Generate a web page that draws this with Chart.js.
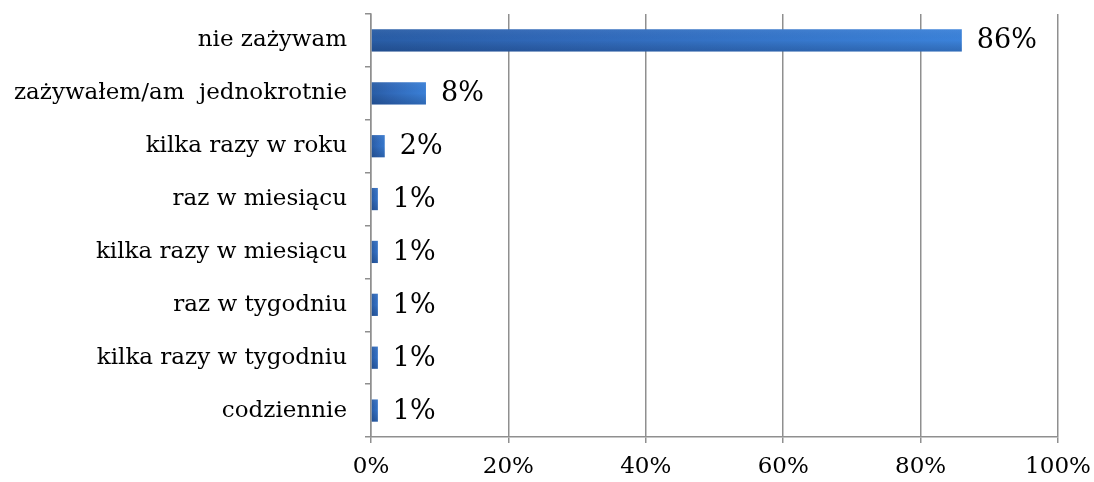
<!DOCTYPE html>
<html>
<head>
<meta charset="utf-8">
<script src="https://cdn.jsdelivr.net/npm/chart.js@4.4.1/dist/chart.umd.min.js"></script>
<style>
  html, body { margin: 0; padding: 0; background: #fff; }
  #wrap { width: 1094px; height: 482px; }
</style>
</head>
<body>
<div id="wrap"><canvas id="wykres" width="1094" height="482"></canvas></div>
<script>
// kategorie odpowiedzi (od góry do dołu)
const kategorie = [
  "nie zażywam",
  "zażywałem/am  jednokrotnie",
  "kilka razy w roku",
  "raz w miesiącu",
  "kilka razy w miesiącu",
  "raz w tygodniu",
  "kilka razy w tygodniu",
  "codziennie"
];
// udział procentowy
const wartosci = [86, 8, 2, 1, 1, 1, 1, 1];
// podpisy osi X
const osX = [0, 20, 40, 60, 80, 100];

const czcionka = "'DejaVu Serif', 'Liberation Serif', serif";
const szary = "#8f8f8f";

// gradient poziomy na każdym słupku (osobny obiekt opcji dla każdego elementu)
const gradientSlupkow = {
  id: "gradientSlupkow",
  beforeDatasetsDraw(chart) {
    const ctx = chart.ctx;
    chart.getDatasetMeta(0).data.forEach(el => {
      const x0 = Math.min(el.base, el.x), x1 = Math.max(el.base, el.x);
      const g = ctx.createLinearGradient(x0, 0, x1 + 4, 0);
      g.addColorStop(0, "#295da6");
      g.addColorStop(0.3, "#3068b8");
      g.addColorStop(1, "#3b82da");
      el.options = Object.assign({}, el.options, { backgroundColor: g });
    });
  },
  // cieniowanie pionowe - dół słupka ciemniejszy
  afterDatasetsDraw(chart) {
    const ctx = chart.ctx;
    ctx.save();
    chart.getDatasetMeta(0).data.forEach(el => {
      const x0 = Math.min(el.base, el.x), x1 = Math.max(el.base, el.x);
      const y0 = el.y - el.height / 2, y1 = el.y + el.height / 2;
      const g = ctx.createLinearGradient(0, y0, 0, y1);
      g.addColorStop(0, "rgba(255,255,255,0.05)");
      g.addColorStop(0.5, "rgba(0,0,0,0)");
      g.addColorStop(1, "rgba(0,15,50,0.2)");
      ctx.fillStyle = g;
      ctx.fillRect(x0, y0, x1 - x0, y1 - y0);
    });
    ctx.restore();
  }
};

// etykiety z wartościami na końcu słupków
const etykiety = {
  id: "etykiety",
  afterDatasetsDraw(chart) {
    const ctx = chart.ctx;
    ctx.save();
    ctx.font = "27px " + czcionka;
    ctx.fillStyle = "#000";
    ctx.textBaseline = "middle";
    ctx.textAlign = "left";
    chart.getDatasetMeta(0).data.forEach((el, i) => {
      ctx.fillText(wartosci[i] + "%", el.x + 15, el.y + 1);
    });
    ctx.restore();
  }
};

new Chart(document.getElementById("wykres").getContext("2d"), {
  type: "bar",
  data: {
    labels: kategorie,
    datasets: [{
      data: wartosci,
      backgroundColor: "#2e6cbd",
      borderWidth: 0,
      barPercentage: 0.42,
      categoryPercentage: 1
    }]
  },
  options: {
    indexAxis: "y",
    responsive: false,
    animation: false,
    layout: { padding: { top: 14, right: 36, bottom: 0, left: 0 } },
    plugins: {
      legend: { display: false },
      tooltip: { enabled: false }
    },
    scales: {
      x: {
        min: 0,
        max: 100,
        afterBuildTicks: s => { s.ticks = osX.map(v => ({ value: v })); },
        afterFit: s => { s.height = 45; s.paddingLeft = 0; s.paddingRight = 0; },
        grid: { color: szary, lineWidth: 1.5, tickLength: 6, drawTicks: true },
        border: { color: szary, width: 1.5 },
        ticks: {
          color: "#000",
          padding: 10,
          font: { family: czcionka, size: 23 },
          callback: v => v + "%"
        }
      },
      y: {
        afterFit: s => { s.width = 371; s.paddingTop = 0; s.paddingBottom = 0; },
        grid: { drawOnChartArea: false, offset: true, color: szary, lineWidth: 1.5, tickLength: 6 },
        border: { color: szary, width: 1.5 },
        ticks: {
          color: "#000",
          padding: 18,
          font: { family: czcionka, size: 23 }
        }
      }
    }
  },
  plugins: [gradientSlupkow, etykiety]
});
</script>
</body>
</html>
